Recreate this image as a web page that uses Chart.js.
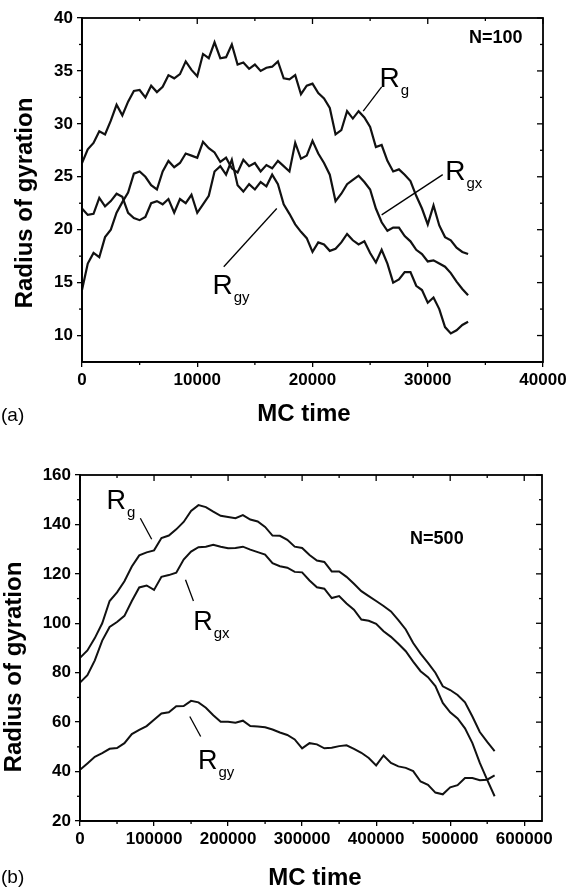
<!DOCTYPE html>
<html><head><meta charset="utf-8">
<script src="https://cdn.jsdelivr.net/npm/chart.js@4.4.0/dist/chart.umd.min.js"></script>
<style>
html,body{margin:0;padding:0;background:#fff;overflow:hidden;}
#wa{position:absolute;left:0;top:0;width:571px;height:440px;}
#wb{position:absolute;left:0;top:440px;width:571px;height:448px;}
</style></head><body>
<div id="wa"><canvas id="ca"></canvas></div>
<div id="wb"><canvas id="cb"></canvas></div>
<script>
// ---------- (a) N=100 ----------
const timeA = [0,500,1000,1500,2000,2500,3000,3500,4000,4500,5000,5500,6000,6500,7000,7500,8000,8500,9000,9500,10000,10500,11000,11500,12000,12500,13000,13500,14000,14500,15000,15500,16000,16500,17000,17500,18000,18500,19000,19500,20000,20500,21000,21500,22000,22500,23000,23500,24000,24500,25000,25500,26000,26500,27000,27500,28000,28500,29000,29500,30000,30500,31000,31500,32000,32500,33000,33500];
const rgA = [26.3,27.6,28.2,29.3,29.0,30.3,31.8,30.8,32.1,33.1,33.2,32.5,33.6,33.0,33.5,34.6,34.3,34.7,35.9,35.1,34.5,36.6,36.2,37.7,36.2,36.3,37.5,35.6,35.8,35.2,35.6,35.0,35.3,35.4,35.9,34.3,34.2,34.6,32.8,33.6,33.8,32.9,32.4,31.5,29.0,29.4,31.2,30.5,31.2,30.6,29.7,27.8,28.0,26.5,25.5,25.7,25.2,24.6,23.2,22.0,20.5,22.3,20.4,19.3,19.0,18.3,17.9,17.7];
const rgxA = [14.3,16.8,17.8,17.4,19.3,20.0,21.6,22.6,23.5,25.3,25.5,25.0,24.2,23.8,25.5,26.5,25.9,26.3,27.2,27.0,26.8,28.3,27.7,27.3,26.4,26.8,25.8,25.4,26.6,26.0,26.3,25.5,26.1,25.8,26.5,26.0,25.5,28.2,26.7,27.0,28.4,27.2,26.3,25.2,22.7,23.4,24.3,24.7,25.1,24.5,23.8,22.0,20.7,19.9,20.2,20.2,19.4,18.9,18.1,17.7,17.0,17.1,16.8,16.5,15.9,15.1,14.4,13.8];
const rgyA = [22.0,21.4,21.5,23.0,22.2,22.7,23.4,23.1,21.6,21.1,20.9,21.2,22.5,22.7,22.4,22.9,21.6,22.9,22.5,23.3,21.6,22.4,23.2,25.5,26.0,25.2,26.6,24.2,23.6,24.3,23.8,24.5,24.1,25.2,24.3,22.4,21.5,20.5,19.8,19.2,17.9,18.8,18.6,18.0,18.2,18.8,19.6,19.0,18.6,18.9,17.8,16.9,18.1,16.8,15.0,15.3,16.0,16.0,14.7,14.3,13.1,13.6,12.5,10.8,10.2,10.5,11.0,11.3];
const xTicksA = [0,10000,20000,30000,40000];
const xMinorA = [5000,15000,25000,35000];
const yTicksA = [10,15,20,25,30,35,40];
const yMinorA = [12.5,17.5,22.5,27.5,32.5,37.5];

// ---------- (b) N=500 ----------
const timeB = [0,10000,20000,30000,40000,50000,60000,70000,80000,90000,100000,110000,120000,130000,140000,150000,160000,170000,180000,190000,200000,210000,220000,230000,240000,250000,260000,270000,280000,290000,300000,310000,320000,330000,340000,350000,360000,370000,380000,390000,400000,410000,420000,430000,440000,450000,460000,470000,480000,490000,500000,510000,520000,530000,540000,550000,560000];
const rgB = [86,89,94,100,109,112.5,117,123,127.5,128.7,129.5,134.5,135.5,138,141,145.5,147.8,147,145.2,143.5,143,142.5,143.8,142,141.2,139,135.5,135.4,133.8,131,130.5,127.6,125.4,124.8,121,121,118.8,116,113,111,109,107,104.8,101.3,97.5,92,87.7,84,80,74.5,73,71,68,62.3,56,52,48.3];
const rgxB = [76,79,85,93,98.5,100.5,103,109,114.5,115.3,113.5,118.8,119.5,120.5,125.8,129,130.8,131,131.8,131,130.4,130.5,131,129.8,128.8,127.8,124.3,123.1,122.5,120.8,120.6,117.3,114.6,114,110.2,111,108,105.5,101.5,101,99.8,96.8,94.5,91.7,88.7,84.5,80.6,78.2,74.6,67.8,64,61.5,57.5,51.5,43.5,36.6,30];
const rgyB = [40.7,43.3,46,47.5,49.2,49.5,51.5,55.2,56.9,58.4,61,63.5,64,66.4,66.5,68.6,68,65.8,62.8,60.2,60.2,59.8,60.6,58.4,58.2,57.9,57,55.8,54.8,53,49.4,51.5,51,49.4,49.6,50.3,50.6,49.2,47.6,45.5,42.5,46.5,43.5,42.1,41.5,40.2,36,34.6,31.5,30.8,33.6,34.5,37.4,37.4,36.5,36.7,38.5];
const xTicksB = [0,100000,200000,300000,400000,500000,600000];
const xMinorB = [50000,150000,250000,350000,450000,550000];
const yTicksB = [20,40,60,80,100,120,140,160];
const yMinorB = [30,50,70,90,110,130,150];

const FAM = "'Liberation Sans', Arial, sans-serif";

const framePlugin = {
  id: 'frame',
  afterDraw(chart, args, o) {
    const {ctx, chartArea: a, scales: {x, y}} = chart;
    ctx.save();
    ctx.strokeStyle = '#000';
    const ln = (x1, y1, x2, y2) => { ctx.beginPath(); ctx.moveTo(x1, y1); ctx.lineTo(x2, y2); ctx.stroke(); };
    ctx.lineWidth = 1.3;
    o.xMajor.forEach(v => { const p = x.getPixelForValue(v); ln(p, a.top, p, a.top + 6); });
    o.xMinor.forEach(v => { const p = x.getPixelForValue(v); ln(p, a.top, p, a.top + 3); ln(p, a.bottom, p, a.bottom + 3); });
    o.yMajor.forEach(v => { const p = y.getPixelForValue(v); ln(a.right, p, a.right - 6, p); });
    o.yMinor.forEach(v => { const p = y.getPixelForValue(v); ln(a.right, p, a.right - 3, p); ln(a.left, p, a.left - 3, p); });
    ctx.lineWidth = 1.8;
    ctx.strokeRect(a.left, a.top, a.right - a.left, a.bottom - a.top);
    ctx.restore();
  }
};

const annotPlugin = {
  id: 'annot',
  afterDraw(chart, args, o) {
    const {ctx, scales: {x, y}} = chart;
    ctx.save();
    ctx.fillStyle = '#000'; ctx.strokeStyle = '#000';
    ctx.lineWidth = 1.3;
    o.lines.forEach(l => {
      ctx.beginPath();
      ctx.moveTo(x.getPixelForValue(l[0]), y.getPixelForValue(l[1]));
      ctx.lineTo(x.getPixelForValue(l[2]), y.getPixelForValue(l[3]));
      ctx.stroke();
    });
    o.labels.forEach(l => {
      const px = x.getPixelForValue(l.x), py = y.getPixelForValue(l.y);
      ctx.font = l.size + 'px ' + FAM;
      ctx.textBaseline = 'alphabetic'; ctx.textAlign = 'left';
      const w = ctx.measureText(l.main).width;
      const base = py + 0.716 * l.size / 2;
      ctx.fillText(l.main, px - w / 2, base);
      ctx.font = l.subSize + 'px ' + FAM;
      ctx.fillText(l.sub, px + w / 2 + 1, base + l.subDrop);
    });
    ctx.font = 'bold ' + o.n.size + 'px ' + FAM;
    ctx.textAlign = 'center'; ctx.textBaseline = 'middle';
    ctx.fillText(o.n.text, x.getPixelForValue(o.n.x), y.getPixelForValue(o.n.y));
    const t = o.titles;
    ctx.font = 'bold 24px ' + FAM;
    ctx.textAlign = 'center'; ctx.textBaseline = 'middle';
    ctx.fillText(t.x, t.xPos[0], t.xPos[1]);
    ctx.save();
    ctx.translate(t.yPos[0], t.yPos[1]);
    ctx.rotate(-Math.PI / 2);
    ctx.fillText(t.y, 0, 0);
    ctx.restore();
    ctx.font = '19px ' + FAM;
    ctx.textAlign = 'left';
    ctx.fillText(t.panel, t.panelPos[0], t.panelPos[1]);
    ctx.restore();
  }
};

function makeScales(xmin, xmax, xt, ymin, ymax, yt, xH, yW) {
  const common = {
    grid: { drawOnChartArea: false, drawTicks: true, tickLength: 5, color: '#000', lineWidth: 1.3 },
    border: { display: true, color: '#000', width: 1.8 },
    ticks: { color: '#000', font: { family: FAM, size: 17, weight: 'bold' }, padding: 3, autoSkip: false, maxRotation: 0 }
  };
  return {
    x: Object.assign({}, common, {
      type: 'linear', min: xmin, max: xmax,
      afterBuildTicks: s => { s.ticks = xt.map(v => ({ value: v })); },
      afterFit: s => { s.height = xH; },
      ticks: Object.assign({}, common.ticks, { callback: v => String(v) })
    }),
    y: Object.assign({}, common, {
      type: 'linear', min: ymin, max: ymax,
      afterBuildTicks: s => { s.ticks = yt.map(v => ({ value: v })); },
      afterFit: s => { s.width = yW; },
      ticks: Object.assign({}, common.ticks, { callback: v => String(v), padding: 4 })
    })
  };
}

function ds(times, vals, name, w) {
  return {
    label: name,
    data: vals.map((v, i) => ({ x: times[i], y: v })),
    borderColor: '#111', borderWidth: w, pointRadius: 0, tension: 0, fill: false
  };
}

new Chart(document.getElementById('ca'), {
  type: 'line',
  data: { datasets: [ds(timeA, rgA, 'Rg', 2.2), ds(timeA, rgxA, 'Rgx', 2.2), ds(timeA, rgyA, 'Rgy', 2.2)] },
  options: {
    responsive: true, maintainAspectRatio: false, animation: false,
    layout: { padding: { top: 18, right: 28, left: 0, bottom: 0 } },
    scales: makeScales(0, 40000, xTicksA, 7.5, 40, yTicksA, 78, 82),
    plugins: {
      legend: { display: false }, tooltip: { enabled: false },
      frame: { xMajor: xTicksA, xMinor: xMinorA, yMajor: yTicksA, yMinor: yMinorA },
      annot: {
        lines: [[26000, 33.5, 24400, 31.2], [31300, 25.2, 26000, 21.4], [12300, 16.5, 16900, 22.0]],
        labels: [
          { main: 'R', sub: 'g', x: 26700, y: 34.4, size: 28, subSize: 15, subDrop: 8 },
          { main: 'R', sub: 'gx', x: 32400, y: 25.6, size: 28, subSize: 15, subDrop: 8 },
          { main: 'R', sub: 'gy', x: 12200, y: 14.9, size: 28, subSize: 15, subDrop: 8 }
        ],
        n: { text: 'N=100', x: 35900, y: 38.1, size: 18 },
        titles: { x: 'MC time', xPos: [304, 414], y: 'Radius of gyration', yPos: [25, 203], panel: '(a)', panelPos: [1, 416] }
      }
    }
  },
  plugins: [framePlugin, annotPlugin]
});

new Chart(document.getElementById('cb'), {
  type: 'line',
  data: { datasets: [ds(timeB, rgB, 'Rg', 2), ds(timeB, rgxB, 'Rgx', 2), ds(timeB, rgyB, 'Rgy', 2)] },
  options: {
    responsive: true, maintainAspectRatio: false, animation: false,
    layout: { padding: { top: 35, right: 29, left: 0, bottom: 0 } },
    scales: makeScales(0, 624000, xTicksB, 20, 160, yTicksB, 67, 80),
    plugins: {
      legend: { display: false }, tooltip: { enabled: false },
      frame: { xMajor: xTicksB, xMinor: xMinorB, yMajor: yTicksB, yMinor: yMinorB },
      annot: {
        lines: [[81500, 142.5, 96800, 134.0], [142500, 117.6, 153200, 109.0], [148300, 62.3, 163000, 54.2]],
        labels: [
          { main: 'R', sub: 'g', x: 49000, y: 150, size: 27, subSize: 15, subDrop: 8 },
          { main: 'R', sub: 'gx', x: 166000, y: 101, size: 27, subSize: 15, subDrop: 8 },
          { main: 'R', sub: 'gy', x: 172500, y: 44.8, size: 27, subSize: 15, subDrop: 8 }
        ],
        n: { text: 'N=500', x: 482000, y: 134, size: 18 },
        titles: { x: 'MC time', xPos: [315, 438], y: 'Radius of gyration', yPos: [14, 227], panel: '(b)', panelPos: [1, 438] }
      }
    }
  },
  plugins: [framePlugin, annotPlugin]
});
</script>
</body></html>
